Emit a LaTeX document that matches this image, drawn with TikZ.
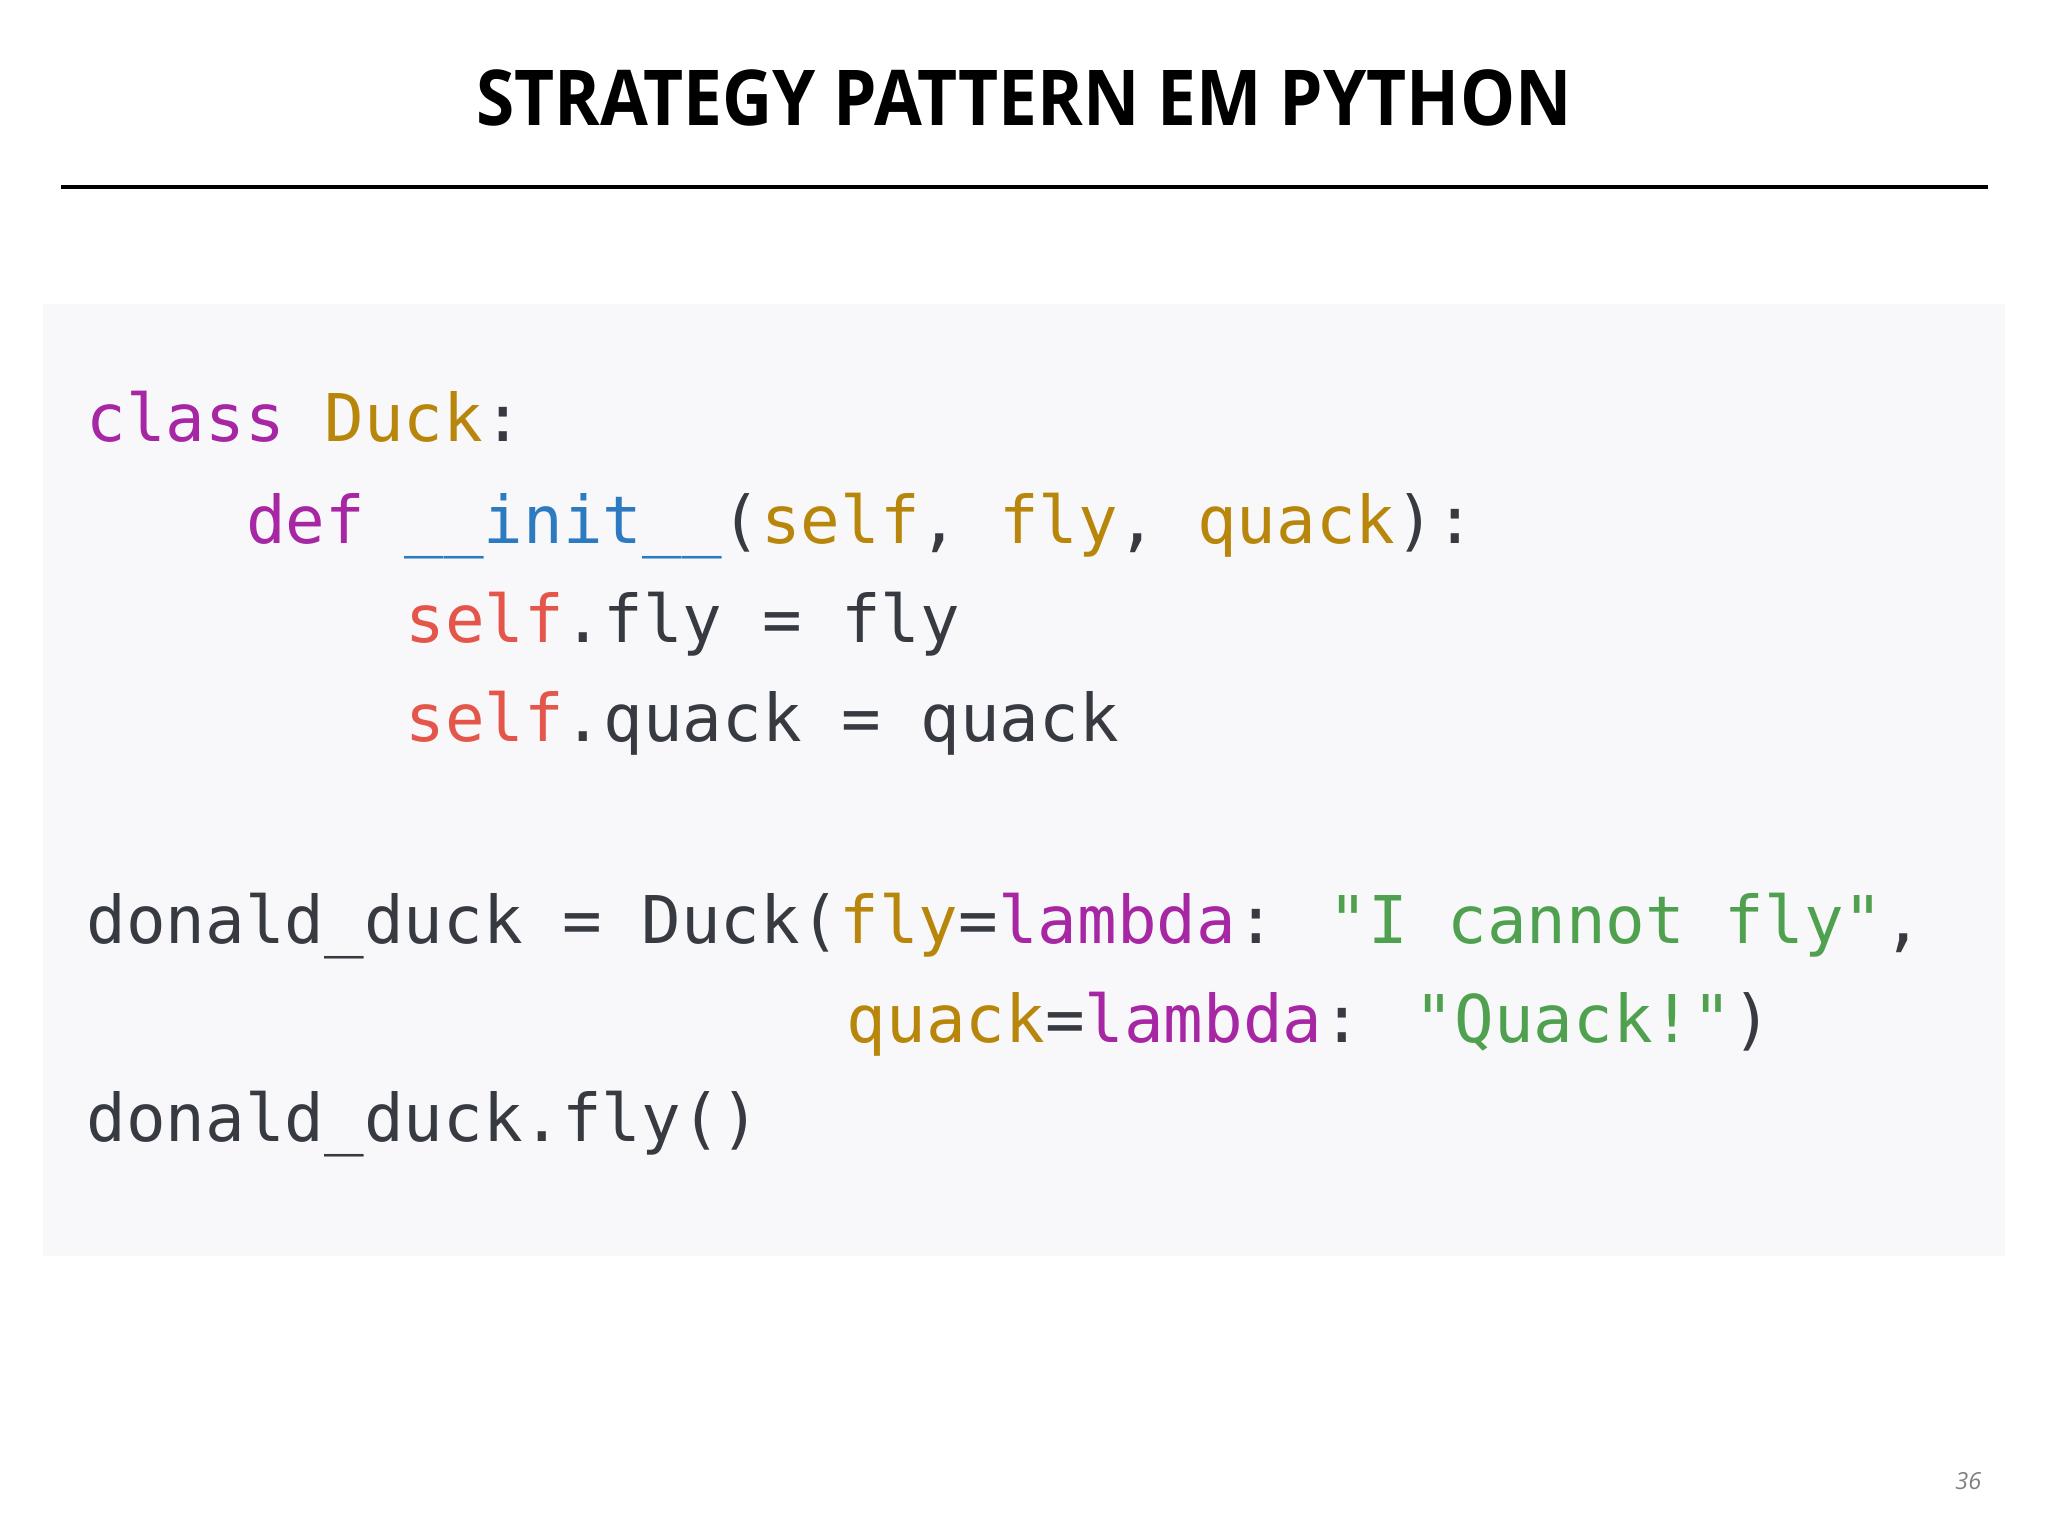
\documentclass[tikz,border=0pt]{standalone}
\usepackage{fontspec}
\usepackage{graphicx}
\setmainfont{Open Sans}
\newfontfamily\code{DejaVu Sans Mono}
\definecolor{kw}{HTML}{A626A4}
\definecolor{ar}{HTML}{B8860B}
\definecolor{fn}{HTML}{2C7AC0}
\definecolor{sf}{HTML}{E45649}
\definecolor{st}{HTML}{50A14F}
\definecolor{tx}{HTML}{383A42}
\definecolor{bg}{HTML}{F8F8FA}
\begin{document}
\begin{tikzpicture}[x=0.5pt,y=-0.5pt,
  cl/.style={anchor=base west,inner sep=0pt,font=\code\fontsize{25.2}{30}\selectfont,text=tx}]
\useasboundingbox (0,0) rectangle (1568,1176);
\fill[white] (0,0) rectangle (1568,1176);
\node[font=\fontsize{29.5}{34}\selectfont\bfseries] (title) at (784,75) {\scalebox{0.9}[1]{STRATEGY PATTERN EM PYTHON}};
\draw[line width=1.5pt] (47,143) -- (1522,143);
\fill[bg] (33,233) rectangle (1535,962);
\node[cl] (l1) at (66,338) {\textcolor{kw}{class} \textcolor{ar}{Duck}:};
\node[cl] (l2) at (188,416) {\textcolor{kw}{def} \textcolor{fn}{\_\_init\_\_}(\textcolor{ar}{self}, \textcolor{ar}{fly}, \textcolor{ar}{quack}):};
\node[cl] (l3) at (310,492) {\textcolor{sf}{self}.fly = fly};
\node[cl] (l4) at (310,568) {\textcolor{sf}{self}.quack = quack};
\node[cl] (l5) at (66,722) {donald\_duck = Duck(\textcolor{ar}{fly}=\textcolor{kw}{lambda}: \textcolor{st}{"I cannot fly"},};
\node[cl] (l6) at (648,798) {\textcolor{ar}{quack}=\textcolor{kw}{lambda}: \textcolor{st}{"Quack!"})};
\node[cl] (l7) at (66,874) {donald\_duck.fly()};
\node[font=\itshape\fontsize{9}{10}\selectfont,text=gray] (pg) at (1507,1134) {36};
\end{tikzpicture}
\end{document}
